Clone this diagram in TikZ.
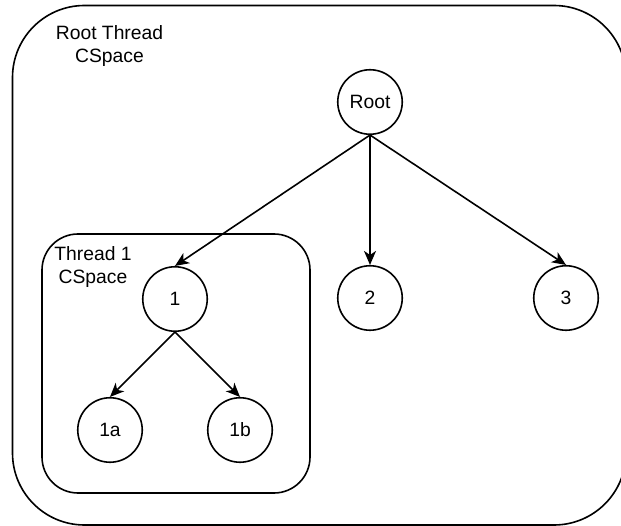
\documentclass[tikz,border=0pt]{standalone}
\usepackage{fontspec}
\setmainfont{Liberation Sans}
\usetikzlibrary{arrows.meta}
\begin{document}
\begin{tikzpicture}[x=1pt, y=-1pt, line width=1.6pt,
  every node/.style={font=\fontsize{19.3}{23.5}\selectfont},
  state/.style={circle, draw, minimum size=64.5pt, inner sep=0pt},
  link/.style={-{Stealth[length=14pt, width=12pt, inset=4pt]}},
  spacebox/.style={draw, line width=1.6pt},
  caption/.style={align=center, inner sep=0pt}]
  \useasboundingbox (0,0) rectangle (621,526);
  \clip (0,0) rectangle (621,526);

  % capability spaces
  \draw[spacebox, rounded corners=72pt] (12.5,5.5) rectangle (626,525);
  \draw[spacebox, rounded corners=36pt] (42,234) rectangle (310,493);
  \node[caption] (roottitle) at (109.5,46) {Root Thread\\CSpace};
  \node[caption] (t1title) at (93,267) {Thread 1\\CSpace};

  % capability tree
  \node[state] (root) at (370,102) {Root};
  \node[state] (n1) at (175,299) {1};
  \node[state] (n2) at (370,298) {2};
  \node[state] (n3) at (566,298) {3};
  \node[state] (n1a) at (110,430) {1a};
  \node[state] (n1b) at (240,430) {1b};

  \draw[link] (root.south) -- (n1.north);
  \draw[link] (root.south) -- (n2.north);
  \draw[link] (root.south) -- (n3.north);
  \draw[link] (n1.south) -- (n1a.north);
  \draw[link] (n1.south) -- (n1b.north);
\end{tikzpicture}
\end{document}
